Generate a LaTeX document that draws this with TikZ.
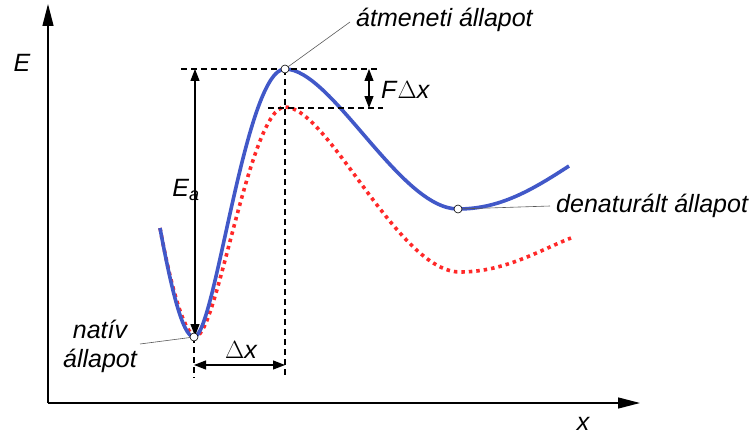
\documentclass[tikz,border=0pt]{standalone}
\usepackage{fontspec}
\setmainfont{Liberation Sans}
\usetikzlibrary{arrows.meta}
\definecolor{curveblue}{RGB}{65,88,200}
\definecolor{curvered}{RGB}{255,40,40}
\tikzset{
  lbl/.style={font=\itshape\fontsize{25}{29}\selectfont, inner sep=0pt},
  axis/.style={line width=1.3pt, -{Triangle[length=22pt,width=11pt]}},
  dimarrow/.style={line width=1.2pt, {Triangle[length=12pt,width=9pt]}-{Triangle[length=12pt,width=9pt]}},
  guide/.style={line width=1.1pt, dash pattern=on 6pt off 4pt},
  leader/.style={line width=0.6pt, gray!70!black},
  statept/.style={circle, draw=black, fill=white, line width=0.6pt, minimum size=8pt, inner sep=0pt},
  bluecurve/.style={line width=3.6pt, curveblue},
  redcurve/.style={line width=3.6pt, curvered, dash pattern=on 3.5pt off 4pt}
}
\begin{document}
\begin{tikzpicture}[x=1pt,y=-1pt]
\useasboundingbox (0,0) rectangle (755,436);
% axes
\coordinate (O) at (48,403);
\coordinate (ytop) at (48,4);
\coordinate (xend) at (640,403);
\draw[axis] (O) -- (ytop);
\draw[axis] (O) -- (xend);
\node[lbl] (Elab) at (22,63) {E};
\node[lbl] (xlab) at (583,424) {x};
% red dotted curve
\draw[redcurve] (160,228) .. controls (170,282) and (184,336) .. (196,336)
  .. controls (217,336) and (250,107) .. (285,107)
  .. controls (328,107) and (398,272) .. (460,272)
  .. controls (505,272) and (540,250) .. (571,238);
% blue curve
\draw[bluecurve] (160,228) .. controls (170,282) and (182,337) .. (194,337)
  .. controls (215,337) and (245,69) .. (285,69)
  .. controls (332,69) and (400,209) .. (458,209)
  .. controls (500,209) and (532,190) .. (569,166);
% key points
\coordinate (nat) at (194,337);
\coordinate (trans) at (285,69);
\coordinate (den) at (458,209);
% guides
\coordinate (gtl) at (181,69);
\coordinate (gtr) at (378,69);
\coordinate (gml) at (268,108);
\coordinate (gmr) at (383,108);
\coordinate (vbot1) at (194,378);
\coordinate (vbot2) at (285,378);
\draw[guide] (gtl) -- (gtr);
\draw[guide] (gml) -- (gmr);
\draw[guide] (trans) -- (vbot2);
\draw[guide] (nat) -- (vbot1);
% dimension arrows
\coordinate (eatop) at (195,69);
\coordinate (eabot) at (195,336);
\draw[dimarrow] (eatop) -- (eabot);
\node[lbl] (Ealab) at (186,190) {E\textsubscript{\fontsize{18}{20}\selectfont a}};
\coordinate (ftop) at (369,69);
\coordinate (fbot) at (369,108);
\draw[dimarrow] (ftop) -- (fbot);
\node[lbl, anchor=west] (Flab) at (381,90) {F\textup{$\Delta$}x};
\coordinate (dxl) at (194,365);
\coordinate (dxr) at (285,365);
\draw[dimarrow] (dxl) -- (dxr);
\node[lbl] (dxlab) at (241,350) {\textup{$\Delta$}x};
% labels and leaders
\node[lbl, anchor=west] (translab) at (356,20) {átmeneti állapot};
\node[lbl, anchor=west] (denlab) at (556,206) {denaturált állapot};
\node[lbl, align=center] (natlab) at (100,346) {natív\\állapot};
\coordinate (natleadend) at (140,344);
\coordinate (transleadend) at (350,22);
\coordinate (denleadend) at (550,206);
\draw[leader] (nat) -- (natleadend);
\draw[leader] (trans) -- (transleadend);
\draw[leader] (den) -- (denleadend);
\node[statept] (natpt) at (nat) {};
\node[statept] (transpt) at (trans) {};
\node[statept] (denpt) at (den) {};
\end{tikzpicture}
\end{document}
